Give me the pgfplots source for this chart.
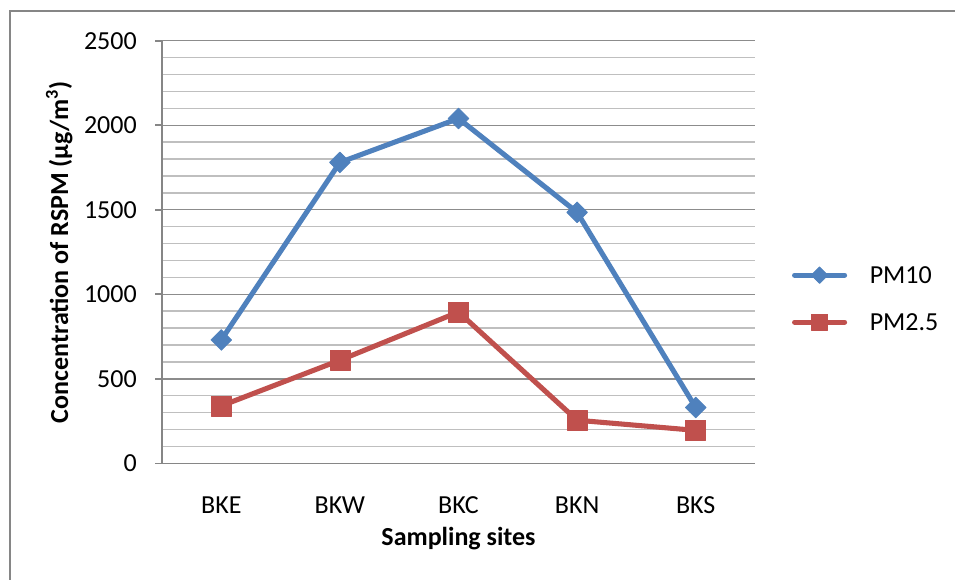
\documentclass[border=0pt]{standalone}
\usepackage{pgfplots}
\pgfplotsset{compat=1.18}
\usepackage{fontspec}
\setmainfont{Carlito}
\definecolor{pmblue}{HTML}{4F81BD}
\definecolor{pmred}{HTML}{C0504D}
\definecolor{majgrid}{HTML}{8C8C8C}
\definecolor{mingrid}{HTML}{BFBFBF}
\definecolor{axisgray}{HTML}{868686}
\begin{document}
\begin{tikzpicture}
\useasboundingbox (0,0) rectangle (716.25pt,435pt);
\fill[white] (0,0) rectangle (716.25pt,435pt);
\draw[color=axisgray, line width=1.2pt] (7.5pt,-20pt) rectangle (740pt,426.75pt);
\begin{axis}[
  at={(121.5pt,87.5pt)}, anchor=south west,
  scale only axis, width=444.75pt, height=316.95pt,
  font=\fontsize{19.5}{23}\selectfont,
  /pgf/number format/assume math mode=true,
  /pgf/number format/1000 sep={},
  xmin=-0.5, xmax=4.5, ymin=0, ymax=2500,
  xtick={0,1,2,3,4},
  xticklabels={BKE,BKW,BKC,BKN,BKS},
  ytick={0,500,1000,1500,2000,2500},
  minor y tick num=4,
  axis x line*=bottom, axis y line*=left,
  axis line style={-, color=axisgray, line width=1.2pt},
  tick align=outside,
  major tick length=5.25pt, minor tick length=0pt,
  xtick style={draw=none},
  ytick style={color=axisgray, line width=1.2pt},
  ymajorgrids, yminorgrids,
  major grid style={color=majgrid, line width=1.1pt},
  minor grid style={color=mingrid, line width=1.1pt},
  yticklabel style={anchor=east, inner sep=0pt, xshift=-13.5pt},
  xticklabel style={anchor=base, inner sep=0pt, yshift=-32.25pt},
  xlabel={\bfseries Sampling sites},
  xlabel style={at={(axis description cs:0.5,0)}, anchor=base, yshift=-61.5pt},
  ylabel={\bfseries Concentration of RSPM (µg/m\textsuperscript{3})},
  ylabel style={at={(axis description cs:-0.1585,0.5)}, anchor=base, rotate=0},
  legend style={at={(rel axis cs:1.062,0.39)}, anchor=west, draw=none, fill=none,
    inner sep=0pt, row sep=23pt, column sep=17pt,
    nodes={inner sep=0pt, text height=12pt, text depth=0pt, font=\fontsize{19.5}{23}\selectfont}},
  legend cell align=left,
  legend image code/.code={\draw[mark repeat=2,mark phase=2,#1,every mark/.append style={scale=0.8}] plot coordinates {(0pt,0pt)(18.75pt,0pt)(37.5pt,0pt)};},
]
\addplot[color=pmblue, line width=3.8pt, line cap=round, line join=round,
  mark=square*, mark size=5.5pt, mark options={solid, rotate=45, fill=pmblue, draw=pmblue, line width=0.5pt}]
  coordinates {(0,730) (1,1780) (2,2040) (3,1485) (4,330)};
\addlegendentry{PM10}
\addplot[color=pmred, line width=3.8pt, line cap=round, line join=round,
  mark=square*, mark size=7.5pt, mark options={solid, fill=pmred, draw=pmred, line width=0.5pt}]
  coordinates {(0,340) (1,610) (2,895) (3,255) (4,195)};
\addlegendentry{PM2.5}
\end{axis}
\end{tikzpicture}
\end{document}
